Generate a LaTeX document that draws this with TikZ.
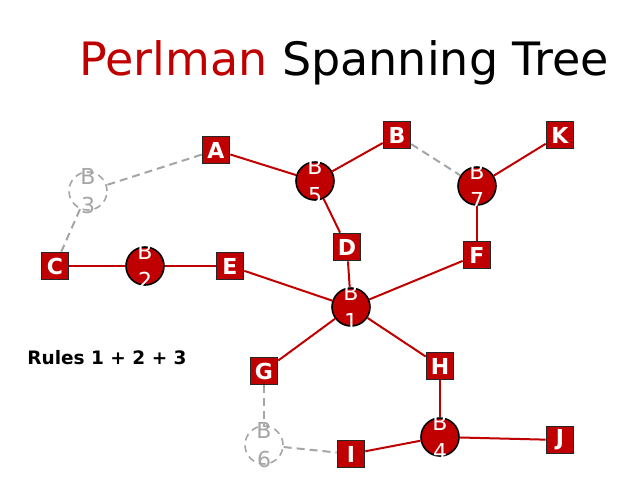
\documentclass[tikz,border=0pt]{standalone}
\usepackage{fontspec}
\setmainfont{DejaVu Sans}
\usetikzlibrary{positioning}
\definecolor{rood}{RGB}{192, 0, 0}
\definecolor{grijs}{RGB}{165, 165, 165}
\tikzset{
  lan/.style={
    draw=black!85, line width=1.6pt, fill=rood, minimum size=27pt, inner sep=0pt,
    text=white, font=\fontsize{22}{22}\selectfont\bfseries
  },
  brug/.style={circle, draw=black, line width=1.6pt, fill=rood, minimum size=38pt, inner sep=0pt},
  brugUit/.style={circle, draw=grijs, dashed, dash pattern=on 7pt off 5pt, line width=1.6pt, minimum size=38pt, inner sep=0pt},
  btxt/.style={text=white, align=center, font=\fontsize{22}{29}\selectfont},
  btxtUit/.style={btxt, text=grijs},
  tak/.style={rood, line width=2pt},
  blok/.style={grijs, dash pattern=on 8pt off 5pt, line width=2pt},
}
\begin{document}
\begin{tikzpicture}[x=1pt, y=-1pt]
\useasboundingbox (0,0) rectangle (619,488);

% titel en regels
\node[anchor=base, font=\fontsize{46}{52}\selectfont] (titel) at (344,75)
  {\textcolor{rood}{Perlman} Spanning Tree};
\node[font=\fontsize{18.5}{18.5}\selectfont\bfseries] (regels) at (107,358) {Rules 1 + 2 + 3};

% LANs
\node[lan] (A) at (216,150) {A};
\node[lan] (B) at (397,135) {B};
\node[lan] (C) at (55,266) {C};
\node[lan] (D) at (347,247) {D};
\node[lan] (E) at (230,266) {E};
\node[lan] (F) at (477,255) {F};
\node[lan] (G) at (264,371) {G};
\node[lan] (H) at (440,366) {H};
\node[lan] (I) at (351,454) {I};
\node[lan] (J) at (560,440) {J};
\node[lan] (K) at (560,135) {K};

% bruggen
\node[brug, label={[btxt]center:B\\1}] (b1) at (351,307) {};
\node[brug, label={[btxt]center:B\\2}] (b2) at (145,266) {};
\node[brugUit, label={[btxtUit]center:B\\3}] (b3) at (88,191) {};
\node[brug, label={[btxt]center:B\\4}] (b4) at (440,437) {};
\node[brug, label={[btxt]center:B\\5}] (b5) at (315,181) {};
\node[brugUit, label={[btxtUit]center:B\\6}] (b6) at (264,445) {};
\node[brug, label={[btxt]center:B\\7}] (b7) at (477,186) {};

% actieve takken
\draw[tak] (A) -- (b5);
\draw[tak] (b5) -- (B);
\draw[tak] (b5) -- (D);
\draw[tak] (D) -- (b1);
\draw[tak] (E) -- (b1);
\draw[tak] (F) -- (b1);
\draw[tak] (b1) -- (G);
\draw[tak] (b1) -- (H);
\draw[tak] (H) -- (b4);
\draw[tak] (b4) -- (I);
\draw[tak] (b4) -- (J);
\draw[tak] (C) -- (b2);
\draw[tak] (b2) -- (E);
\draw[tak] (K) -- (b7);
\draw[tak] (b7) -- (F);

% geblokkeerde takken
\draw[blok] (A) -- (b3);
\draw[blok] (b3) -- (C);
\draw[blok] (B) -- (b7);
\draw[blok] (G) -- (b6);
\draw[blok] (b6) -- (I);

\end{tikzpicture}
\end{document}
